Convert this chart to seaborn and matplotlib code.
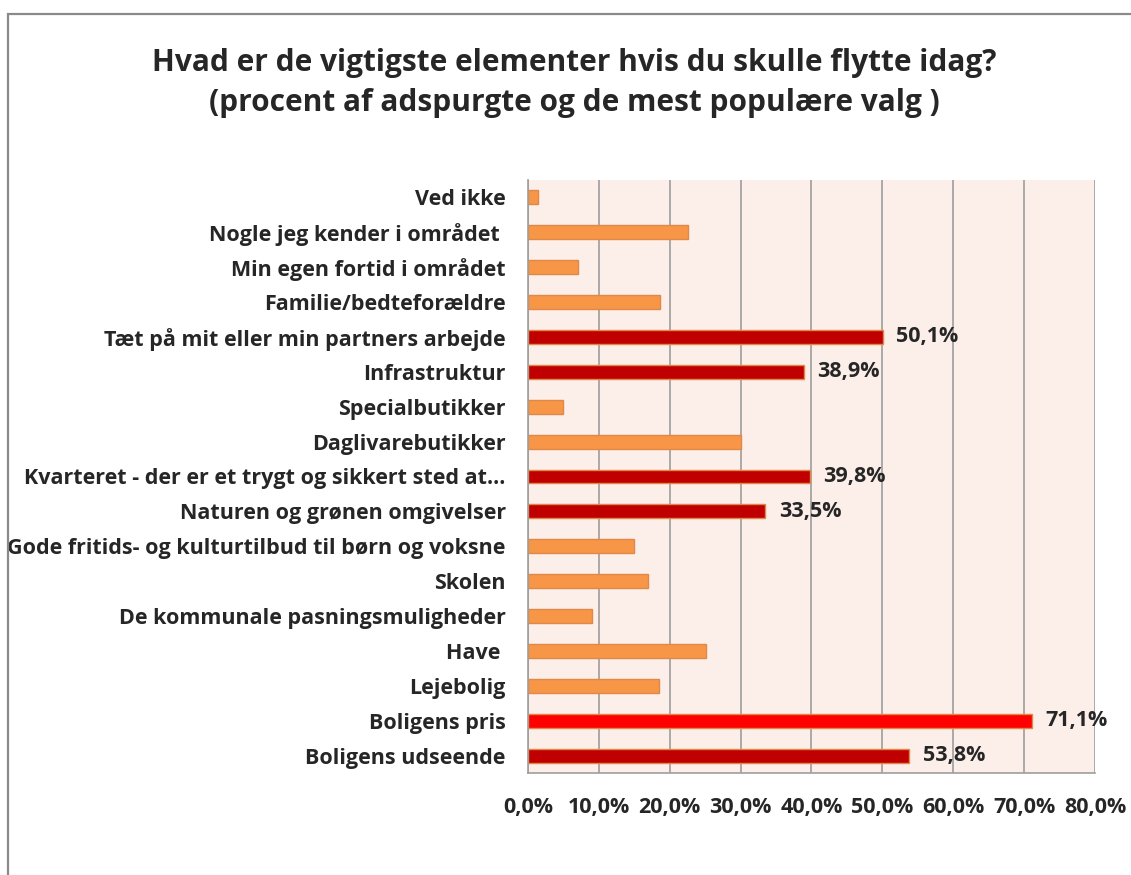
import matplotlib.pyplot as plt
import matplotlib.patches as mpatches
import pandas as pd
import seaborn as sns

# data (percent of respondents)
kategorier = ['Ved ikke', 'Nogle jeg kender i området ', 'Min egen fortid i området',
              'Familie/bedteforældre', 'Tæt på mit eller min partners arbejde',
              'Infrastruktur', 'Specialbutikker', 'Daglivarebutikker',
              'Kvarteret - der er et trygt og sikkert sted at...',
              'Naturen og grønen omgivelser',
              'Gode fritids- og kulturtilbud til børn og voksne', 'Skolen',
              'De kommunale pasningsmuligheder', 'Have ', 'Lejebolig',
              'Boligens pris', 'Boligens udseende']
procent = [1.4, 22.6, 7.1, 18.7, 50.1, 38.9, 4.9, 30.0, 39.8, 33.5,
           14.9, 16.9, 9.0, 25.1, 18.5, 71.1, 53.8]
gruppe = ['lav', 'lav', 'lav', 'lav', 'hoej', 'hoej', 'lav', 'lav', 'hoej', 'hoej',
          'lav', 'lav', 'lav', 'lav', 'lav', 'top', 'hoej']
x_ticks = [0, 10, 20, 30, 40, 50, 60, 70, 80]

farver = {'lav': '#F79646', 'hoej': '#C00000', 'top': '#FF0000'}

df = pd.DataFrame({'kategori': kategorier, 'procent': procent, 'gruppe': gruppe})

sns.set_style('white')
plt.rcParams['font.family'] = ['Open Sans', 'DejaVu Sans']
plt.rcParams['font.weight'] = 'bold'

fig = plt.figure(figsize=(11.31, 8.75), dpi=100)
ax = fig.add_axes([0.4668, 0.1166, 0.5013, 0.6777])

sns.barplot(data=df, x='procent', y='kategori', hue='gruppe', palette=farver,
            dodge=False, width=0.4, orient='h', edgecolor='#E0874A', saturation=1,
            linewidth=1, legend=False, ax=ax)

ax.set_facecolor('#FCEEE9')
ax.set_xlim(0, 80)
ax.set_ylim(len(kategorier) - 0.5, -0.5)
ax.set_xticks(x_ticks)
ax.set_xticklabels([f'{t:.1f}%'.replace('.', ',') for t in x_ticks], fontsize=15.5,
                   fontweight='bold')
ax.tick_params(axis='y', labelsize=15.5, length=0, pad=16)
ax.tick_params(axis='x', length=0, pad=17)
for lbl in ax.get_yticklabels():
    lbl.set_fontweight('bold')
ax.set_xlabel('')
ax.set_ylabel('')
ax.grid(axis='x', color='#9E9E9E', linewidth=1.2)
ax.set_axisbelow(True)
for s in ['top', 'right']:
    ax.spines[s].set_visible(False)
for s in ['left', 'bottom']:
    ax.spines[s].set_color('#9E9E9E')
    ax.spines[s].set_linewidth(1.2)

# value labels only on the red bars
for i, (v, g) in enumerate(zip(procent, gruppe)):
    if g != 'lav':
        ax.text(v + 1.9, i, f'{v:.1f}%'.replace('.', ','), va='center', ha='left',
                fontsize=15.5, fontweight='bold')

fig.text(0.508, 0.905, 'Hvad er de vigtigste elementer hvis du skulle flytte idag?\n'
         '(procent af adspurgte og de mest populære valg )',
         ha='center', va='center', fontsize=21.5, fontweight='bold', linespacing=1.45)

# outer chart frame
fig.add_artist(mpatches.Rectangle((0.0075, -0.05), 1.1, 1.034, transform=fig.transFigure,
                                  fill=False, edgecolor='#8A8A8A', linewidth=1.6))

plt.savefig('out.png', dpi=100)
